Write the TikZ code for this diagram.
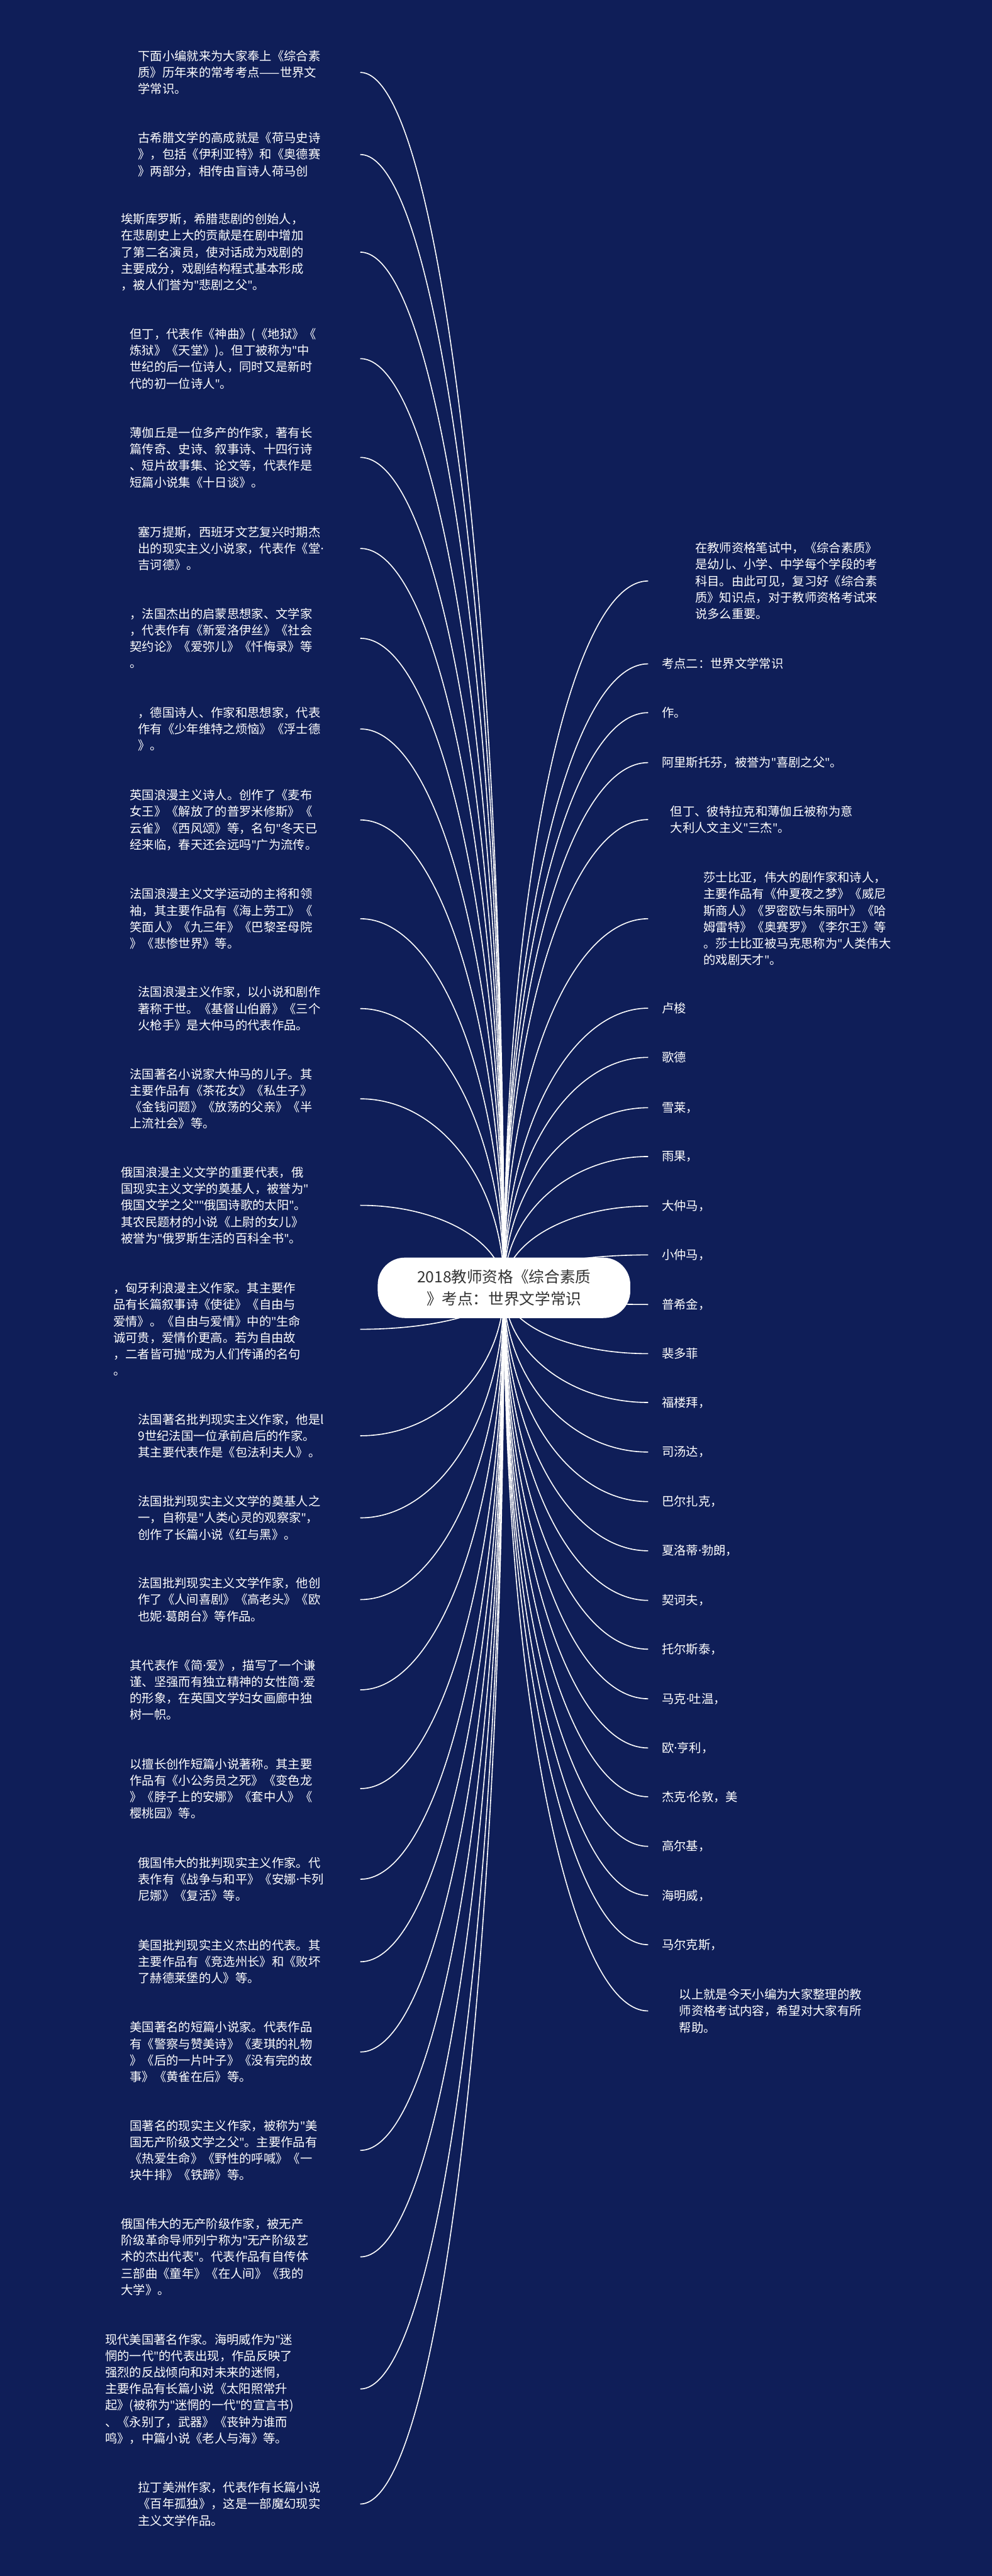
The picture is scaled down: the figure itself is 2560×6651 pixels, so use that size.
\documentclass[tikz,border=0pt]{standalone}
\usepackage{fontspec}
\setmainfont{Noto Sans CJK SC}
\newfontfamily\latf{Noto Sans}
\newcommand\q{{\latf"}}
\newcommand\md{{\latf ·}}
\definecolor{bgblue}{RGB}{15,30,88}
\definecolor{roottext}{RGB}{51,51,51}
\pgfdeclarelayer{bg}
\pgfdeclarelayer{lines}
\pgfsetlayers{bg,lines,main}
\begin{document}
\begin{tikzpicture}[x=0.5pt,y=-0.5pt,
  leaf/.style={anchor=west, align=left, inner sep=0pt, text=white, font=\fontsize{15.7}{21.3}\selectfont},
  conn/.style={draw=white, line width=1.3pt},
  rootbox/.style={fill=white, rounded corners=35pt, minimum width=326pt, minimum height=78pt, align=center, text=roottext, font=\fontsize{20}{28}\selectfont, inner sep=0pt}]
\begin{pgfonlayer}{bg}
\fill[bgblue] (0,0) rectangle (2560,6651);
\end{pgfonlayer}
\useasboundingbox (0,0) rectangle (2560,6651);

\node[rootbox] (root) at (1301,3325) {2018教师资格《综合素质\\》考点：世界文学常识};

% left leaves
\node[leaf] (t1) at (356,187) {下面小编就来为大家奉上《综合素\\质》历年来的常考考点——世界文\\学常识。};
\node[leaf] (t2) at (356,399) {古希腊文学的高成就是《荷马史诗\\》，包括《伊利亚特》和《奥德赛\\》两部分，相传由盲诗人荷马创};
\node[leaf] (t3) at (312,651) {埃斯库罗斯，希腊悲剧的创始人，\\在悲剧史上大的贡献是在剧中增加\\了第二名演员，使对话成为戏剧的\\主要成分，戏剧结构程式基本形成\\，被人们誉为\q{}悲剧之父\q{}。};
\node[leaf] (t4) at (335,926) {但丁，代表作《神曲》(《地狱》《\\炼狱》《天堂》)。但丁被称为\q{}中\\世纪的后一位诗人，同时又是新时\\代的初一位诗人\q{}。};
\node[leaf] (t5) at (335,1181) {薄伽丘是一位多产的作家，著有长\\篇传奇、史诗、叙事诗、十四行诗\\、短片故事集、论文等，代表作是\\短篇小说集《十日谈》。};
\node[leaf] (t6) at (356,1416) {塞万提斯，西班牙文艺复兴时期杰\\出的现实主义小说家，代表作《堂\md{}\\吉诃德》。};
\node[leaf] (t7) at (335,1648) {，法国杰出的启蒙思想家、文学家\\，代表作有《新爱洛伊丝》《社会\\契约论》《爱弥儿》《忏悔录》等\\。};
\node[leaf] (t8) at (356,1882) {，德国诗人、作家和思想家，代表\\作有《少年维特之烦恼》《浮士德\\》。};
\node[leaf] (t9) at (335,2117) {英国浪漫主义诗人。创作了《麦布\\女王》《解放了的普罗米修斯》《\\云雀》《西风颂》等，名句\q{}冬天已\\经来临，春天还会远吗\q{}广为流传。};
\node[leaf] (t10) at (335,2372) {法国浪漫主义文学运动的主将和领\\袖，其主要作品有《海上劳工》《\\笑面人》《九三年》《巴黎圣母院\\》《悲惨世界》等。};
\node[leaf] (t11) at (356,2604) {法国浪漫主义作家，以小说和剧作\\著称于世。《基督山伯爵》《三个\\火枪手》是大仲马的代表作品。};
\node[leaf] (t12) at (335,2837) {法国著名小说家大仲马的儿子。其\\主要作品有《茶花女》《私生子》\\《金钱问题》《放荡的父亲》《半\\上流社会》等。};
\node[leaf] (t13) at (312,3112) {俄国浪漫主义文学的重要代表，俄\\国现实主义文学的奠基人，被誉为\q{}\\俄国文学之父\q{}\q{}俄国诗歌的太阳\q{}。\\其农民题材的小说《上尉的女儿》\\被誉为\q{}俄罗斯生活的百科全书\q{}。};
\node[leaf] (t14) at (292,3432) {，匈牙利浪漫主义作家。其主要作\\品有长篇叙事诗《使徒》《自由与\\爱情》。《自由与爱情》中的\q{}生命\\诚可贵，爱情价更高。若为自由故\\，二者皆可抛\q{}成为人们传诵的名句\\。};
\node[leaf] (t15) at (356,3707) {法国著名批判现实主义作家，他是l\\9世纪法国一位承前启后的作家。\\其主要代表作是《包法利夫人》。};
\node[leaf] (t16) at (356,3919) {法国批判现实主义文学的奠基人之\\一，自称是\q{}人类心灵的观察家\q{}，\\创作了长篇小说《红与黑》。};
\node[leaf] (t17) at (356,4130) {法国批判现实主义文学作家，他创\\作了《人间喜剧》《高老头》《欧\\也妮\md{}葛朗台》等作品。};
\node[leaf] (t18) at (335,4363) {其代表作《简\md{}爱》，描写了一个谦\\谨、坚强而有独立精神的女性简\md{}爱\\的形象，在英国文学妇女画廊中独\\树一帜。};
\node[leaf] (t19) at (335,4618) {以擅长创作短篇小说著称。其主要\\作品有《小公务员之死》《变色龙\\》《脖子上的安娜》《套中人》《\\樱桃园》等。};
\node[leaf] (t20) at (356,4852) {俄国伟大的批判现实主义作家。代\\表作有《战争与和平》《安娜\md{}卡列\\尼娜》《复活》等。};
\node[leaf] (t21) at (356,5065) {美国批判现实主义杰出的代表。其\\主要作品有《竞选州长》和《败坏\\了赫德莱堡的人》等。};
\node[leaf] (t22) at (335,5298) {美国著名的短篇小说家。代表作品\\有《警察与赞美诗》《麦琪的礼物\\》《后的一片叶子》《没有完的故\\事》《黄雀在后》等。};
\node[leaf] (t23) at (335,5552) {国著名的现实主义作家，被称为\q{}美\\国无产阶级文学之父\q{}。主要作品有\\《热爱生命》《野性的呼喊》《一\\块牛排》《铁蹄》等。};
\node[leaf] (t24) at (312,5827) {俄国伟大的无产阶级作家，被无产\\阶级革命导师列宁称为\q{}无产阶级艺\\术的杰出代表\q{}。代表作品有自传体\\三部曲《童年》《在人间》《我的\\大学》。};
\node[leaf] (t25) at (271,6168) {现代美国著名作家。海明威作为\q{}迷\\惘的一代\q{}的代表出现，作品反映了\\强烈的反战倾向和对未来的迷惘，\\主要作品有长篇小说《太阳照常升\\起》(被称为\q{}迷惘的一代\q{}的宣言书)\\、《永别了，武器》《丧钟为谁而\\鸣》，中篇小说《老人与海》等。};
\node[leaf] (t26) at (356,6465) {拉丁美洲作家，代表作有长篇小说\\《百年孤独》，这是一部魔幻现实\\主义文学作品。};

% right leaves
\node[leaf] (s1) at (1794,1500) {在教师资格笔试中，《综合素质》\\是幼儿、小学、中学每个学段的考\\科目。由此可见，复习好《综合素\\质》知识点，对于教师资格考试来\\说多么重要。};
\node[leaf] (s2) at (1708,1714) {考点二：世界文学常识};
\node[leaf] (s3) at (1708,1840) {作。};
\node[leaf] (s4) at (1708,1969) {阿里斯托芬，被誉为\q{}喜剧之父\q{}。};
\node[leaf] (s5) at (1730,2116) {但丁、彼特拉克和薄伽丘被称为意\\大利人文主义\q{}三杰\q{}。};
\node[leaf] (s6) at (1816,2372) {莎士比亚，伟大的剧作家和诗人，\\主要作品有《仲夏夜之梦》《威尼\\斯商人》《罗密欧与朱丽叶》《哈\\姆雷特》《奥赛罗》《李尔王》等\\。莎士比亚被马克思称为\q{}人类伟大\\的戏剧天才\q{}。};
\node[leaf] (s7) at (1708,2603) {卢梭};
\node[leaf] (s8) at (1708,2730) {歌德};
\node[leaf] (s9) at (1708,2860) {雪莱，};
\node[leaf] (s10) at (1708,2986) {雨果，};
\node[leaf] (s11) at (1708,3114) {大仲马，};
\node[leaf] (s12) at (1708,3240) {小仲马，};
\node[leaf] (s13) at (1708,3368) {普希金，};
\node[leaf] (s14) at (1708,3495) {裴多菲};
\node[leaf] (s15) at (1708,3621) {福楼拜，};
\node[leaf] (s16) at (1708,3749) {司汤达，};
\node[leaf] (s17) at (1708,3877) {巴尔扎克，};
\node[leaf] (s18) at (1708,4004) {夏洛蒂\md{}勃朗，};
\node[leaf] (s19) at (1708,4132) {契诃夫，};
\node[leaf] (s20) at (1708,4258) {托尔斯泰，};
\node[leaf] (s21) at (1708,4386) {马克\md{}吐温，};
\node[leaf] (s22) at (1708,4513) {欧\md{}亨利，};
\node[leaf] (s23) at (1708,4639) {杰克\md{}伦敦，美};
\node[leaf] (s24) at (1708,4767) {高尔基，};
\node[leaf] (s25) at (1708,4894) {海明威，};
\node[leaf] (s26) at (1708,5021) {马尔克斯，};
\node[leaf] (s27) at (1753,5192) {以上就是今天小编为大家整理的教\\师资格考试内容，希望对大家有所\\帮助。};

\begin{pgfonlayer}{lines}
\foreach \n/\y in {a1/187,a2/399,a3/651,a4/926,a5/1181,a6/1416,a7/1648,a8/1882,a9/2117,a10/2372,a11/2604,a12/2837,a13/3112,a14/3432,a15/3707,a16/3919,a17/4130,a18/4363,a19/4618,a20/4852,a21/5065,a22/5298,a23/5552,a24/5827,a25/6168,a26/6465}{
  \coordinate (\n) at (930,\y);
  \draw[conn] (root.center) .. controls (1301,{3325+0.552*(\y-3325)}) and (1135,\y) .. (\n);
}
\foreach \n/\y in {b1/1500,b2/1714,b3/1840,b4/1969,b5/2116,b6/2372,b7/2603,b8/2730,b9/2860,b10/2986,b11/3114,b12/3240,b13/3368,b14/3495,b15/3621,b16/3749,b17/3877,b18/4004,b19/4132,b20/4258,b21/4386,b22/4513,b23/4639,b24/4767,b25/4894,b26/5021,b27/5192}{
  \coordinate (\n) at (1673,\y);
  \draw[conn] (root.center) .. controls (1301,{3325+0.552*(\y-3325)}) and (1468,\y) .. (\n);
}
\end{pgfonlayer}
\end{tikzpicture}
\end{document}
